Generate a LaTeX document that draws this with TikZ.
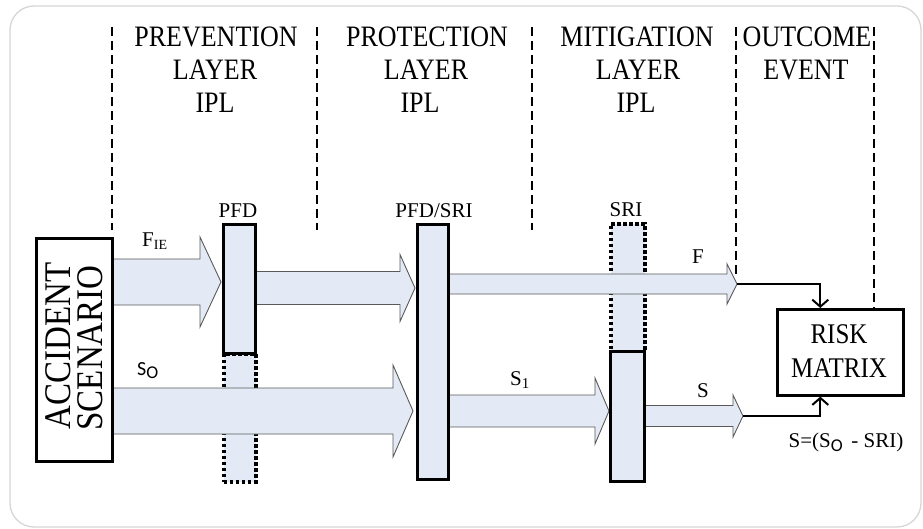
\documentclass[tikz,border=0pt]{standalone}
\usepackage{fontspec}
\usepackage{graphicx}
\setmainfont{Liberation Serif}
\newfontfamily\sofont{Carlito}
\usetikzlibrary{arrows.meta}
\definecolor{barfill}{RGB}{228,234,245}
\newcommand{\barrow}[6]{%
  \fill[barfill] (#1,#3-#4) -- (#2-#6,#3-#4) -- (#2-#6,#3-#5) -- (#2,#3) -- (#2-#6,#3+#5) -- (#2-#6,#3+#4) -- (#1,#3+#4) -- cycle;
  \draw[arrowline] (#1,#3-#4) -- (#2-#6,#3-#4) -- (#2-#6,#3-#5) -- (#2,#3) -- (#2-#6,#3+#5) -- (#2-#6,#3+#4) -- (#1,#3+#4);}
\newcommand{\tall}[1]{\scalebox{1}[1.14]{#1}}
\tikzset{
  frame/.style={draw=black!16, line width=1.3pt, rounded corners=24pt},
  sep/.style={draw=black, line width=2.8pt, dash pattern=on 9pt off 5pt},
  title/.style={font=\fontsize{26}{30}\selectfont, anchor=base, inner sep=0pt},
  acctext/.style={font=\fontsize{33}{36}\selectfont, anchor=base, inner sep=0pt, rotate=90},
  risktext/.style={font=\fontsize{25}{28}\selectfont, anchor=base, inner sep=0pt},
  lbl/.style={font=\fontsize{21}{24}\selectfont, anchor=base, inner sep=0pt},
  solidbar/.style={draw=black, line width=2.6pt, fill=barfill, inner sep=0pt, anchor=north west},
  dotbar/.style={draw=black, line width=3.6pt, dash pattern=on 3.5pt off 2.5pt, fill=barfill, inner sep=0pt, anchor=north west},
  whitebox/.style={draw=black, line width=2.6pt, fill=white, inner sep=0pt, anchor=north west},
  arrowline/.style={draw=black!65, line width=0.9pt},
  feed/.style={draw=black, line width=2pt, -{Straight Barb[length=7pt,width=16pt,line width=2pt]}}
}
\begin{document}
\begin{tikzpicture}[x=1pt,y=-1pt]
\useasboundingbox (0,0) rectangle (923,529);
\draw[frame] (10,6) rectangle (921,527);

% separators
\coordinate (s1t) at (112,27); \coordinate (s1b) at (112,230);
\coordinate (s2t) at (317,27); \coordinate (s2b) at (317,230);
\coordinate (s3t) at (532,27); \coordinate (s3b) at (532,230);
\coordinate (s4t) at (736,27); \coordinate (s4b) at (736,277);
\coordinate (s5t) at (874,27);
\draw[sep] (s1t) -- (s1b);
\draw[sep] (s2t) -- (s2b);
\draw[sep] (s3t) -- (s3b);
\draw[sep] (s4t) -- (s4b);

% titles
\node[title] (t1a) at (216,47) {\tall{PREVENTION}};
\node[title] (t1b) at (215,80) {\tall{LAYER}};
\node[title] (t1c) at (215,113) {\tall{IPL}};
\node[title] (t2a) at (427,47) {\tall{PROTECTION}};
\node[title] (t2b) at (426,80) {\tall{LAYER}};
\node[title] (t2c) at (420,113) {\tall{IPL}};
\node[title] (t3a) at (637,47) {\tall{MITIGATION}};
\node[title] (t3b) at (638,80) {\tall{LAYER}};
\node[title] (t3c) at (636,113) {\tall{IPL}};
\node[title] (t4a) at (807,47) {\tall{OUTCOME}};
\node[title] (t4b) at (806,80) {\tall{EVENT}};

% dotted bars
\node[dotbar, minimum width=32pt, minimum height=128pt] (pfdlow) at (222,352) {};
\node[dotbar, minimum width=34pt, minimum height=128pt] (sritop) at (609,222) {};

% block arrows
\barrow{111}{221}{282}{23}{45}{21}
\barrow{254}{415}{288}{16.5}{33.5}{15}
\barrow{447}{737}{284}{10}{20}{10}
\barrow{111}{413}{411}{23}{46}{20}
\barrow{447}{609}{411}{16}{33}{14}
\barrow{643}{743}{416}{10.5}{21}{10}

% solid bars and boxes
\node[whitebox, minimum width=76pt, minimum height=223pt] (acc) at (35,237) {};
\node[solidbar, minimum width=32pt, minimum height=129pt] (pfd) at (222,223) {};
\node[solidbar, minimum width=31pt, minimum height=255pt] (prot) at (416,223) {};
\node[solidbar, minimum width=34pt, minimum height=130pt] (srilow) at (609,350) {};
\node[whitebox, minimum width=126pt, minimum height=86pt] (risk) at (776,308) {};
\draw[sep] (s5t) -- (s5t |- risk.north);

% box texts
\node[acctext] (acc1) at (70,346) {\tall{ACCIDENT}};
\node[acctext] (acc2) at (102,348) {\tall{SCENARIO}};
\node[risktext] (risk1) at (839,343) {\tall{RISK}};
\node[risktext] (risk2) at (839,377) {\tall{MATRIX}};

% labels
\node[lbl] (lpfd) at (238,218) {PFD};
\node[lbl] (lprot) at (434,218) {PFD/SRI};
\node[lbl] (lsri) at (626,217) {SRI};
\node[lbl, anchor=base west] (lfie) at (142,247) {F\raisebox{-3pt}{\fontsize{14}{14}\selectfont IE}};
\node[lbl, anchor=base west, font=\fontsize{20}{24}\sofont] (lso) at (137,375) {S\raisebox{-3pt}{\fontsize{18}{18}\selectfont O}};
\node[lbl, anchor=base west] (ls1) at (510,385) {S\raisebox{-3pt}{\fontsize{15}{15}\selectfont 1}};
\node[lbl] (ls) at (703,397) {S};
\node[lbl] (lf) at (698,263) {F};
\node[lbl] (lform) at (846,447) {S=(S\raisebox{-4pt}{\fontsize{18}{18}\sofont O}\, - SRI)};

% feed connectors
\coordinate (ftip) at (737,284);
\coordinate (stip) at (743,416);
\draw[feed] (ftip) -| ([xshift=-20pt]risk.north);
\draw[feed] (stip) -| ([xshift=-20pt]risk.south);
\end{tikzpicture}
\end{document}
